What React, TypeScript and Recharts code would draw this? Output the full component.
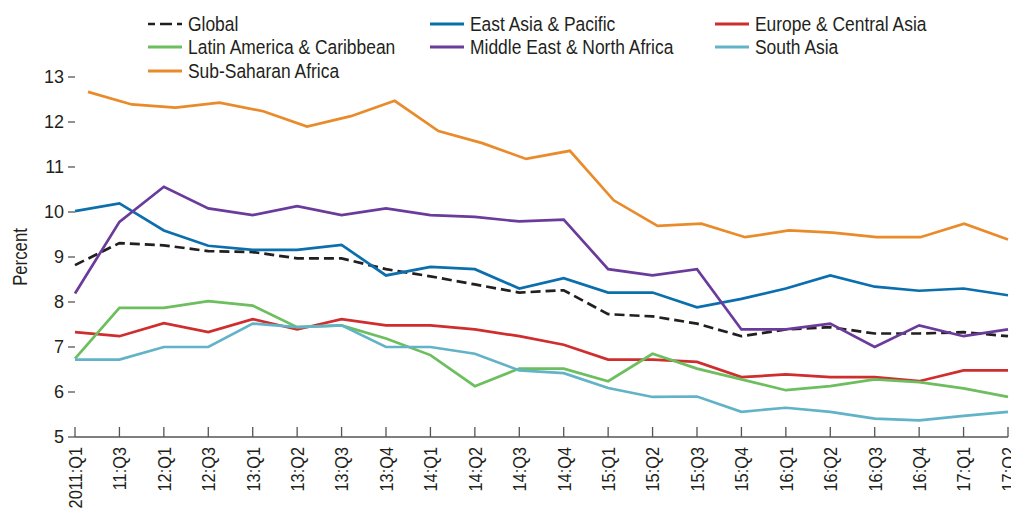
import React from "react";
import { LineChart, Line, XAxis, YAxis } from "recharts";

const quarters = [
  "2011:Q1", "11:Q3", "12:Q1", "12:Q3", "13:Q1", "13:Q2", "13:Q3", "13:Q4",
  "14:Q1", "14:Q2", "14:Q3", "14:Q4", "15:Q1", "15:Q2", "15:Q3", "15:Q4",
  "16:Q1", "16:Q2", "16:Q3", "16:Q4", "17:Q1", "17:Q2",
];

const globalRate = [8.82, 9.31, 9.26, 9.13, 9.11, 8.97, 8.97, 8.73, 8.57, 8.39, 8.21, 8.26, 7.73, 7.68, 7.52, 7.24, 7.39, 7.44, 7.3, 7.3, 7.33, 7.24];
const eastAsia = [10.02, 10.19, 9.59, 9.25, 9.16, 9.16, 9.27, 8.59, 8.78, 8.73, 8.3, 8.53, 8.21, 8.21, 7.88, 8.07, 8.3, 8.59, 8.34, 8.25, 8.3, 8.15];
const europe = [7.33, 7.24, 7.53, 7.33, 7.62, 7.39, 7.62, 7.48, 7.48, 7.39, 7.24, 7.05, 6.72, 6.72, 6.67, 6.33, 6.39, 6.33, 6.33, 6.24, 6.48, 6.48];
const latinAmerica = [6.74, 7.87, 7.87, 8.02, 7.92, 7.44, 7.48, 7.19, 6.82, 6.13, 6.52, 6.52, 6.24, 6.85, 6.52, 6.28, 6.04, 6.13, 6.28, 6.22, 6.08, 5.89];
const middleEast = [8.19, 9.78, 10.56, 10.08, 9.93, 10.13, 9.93, 10.08, 9.93, 9.89, 9.79, 9.83, 8.73, 8.59, 8.73, 7.39, 7.39, 7.52, 7.0, 7.48, 7.24, 7.39];
const southAsia = [6.72, 6.72, 7.0, 7.0, 7.52, 7.44, 7.48, 7.0, 7.0, 6.85, 6.48, 6.42, 6.09, 5.89, 5.9, 5.56, 5.65, 5.56, 5.41, 5.37, 5.47, 5.56];
const subSaharan = [12.67, 12.39, 12.32, 12.43, 12.24, 11.9, 12.13, 12.47, 11.8, 11.53, 11.18, 11.36, 10.26, 9.69, 9.74, 9.44, 9.59, 9.54, 9.44, 9.44, 9.74, 9.39];

const yTicks = [5, 6, 7, 8, 9, 10, 11, 12, 13];

// legend order = 3 columns, row by row
const series = [
  { key: "global", name: "Global", color: "#231f20", dashed: true },
  { key: "eap", name: "East Asia & Pacific", color: "#0b6fae", dashed: false },
  { key: "eca", name: "Europe & Central Asia", color: "#cf2e2e", dashed: false },
  { key: "lac", name: "Latin America & Caribbean", color: "#6cbe5e", dashed: false },
  { key: "mena", name: "Middle East & North Africa", color: "#6b3b9c", dashed: false },
  { key: "sas", name: "South Asia", color: "#62b3c7", dashed: false },
  { key: "ssa", name: "Sub-Saharan Africa", color: "#e98b2a", dashed: false },
];

const data = quarters.map((q, i) => ({
  q,
  global: globalRate[i],
  eap: eastAsia[i],
  eca: europe[i],
  lac: latinAmerica[i],
  mena: middleEast[i],
  sas: southAsia[i],
  ssa: subSaharan[i],
}));

// no condensed font installed, so Liberation Sans gets squeezed horizontally
const FONT = "'Liberation Sans', Arial, sans-serif";
const SQUEEZE = 0.86;
const TEXT = "#231f20";
const AXIS = "#555555";

function QuarterTick({ x = 0, y = 0, payload }: { x?: number; y?: number; payload?: { value?: string } }) {
  return (
    <g>
      <line x1={x} y1={y - 10} x2={x} y2={y} stroke={AXIS} strokeWidth={1.3} />
      <text
        x={0}
        y={0}
        transform={`translate(${x}, ${y + 10}) rotate(-90) scale(${SQUEEZE}, 1)`}
        textAnchor="end"
        dy="0.36em"
        fontSize={19}
        fontFamily={FONT}
        fill={TEXT}
      >
        {payload?.value ?? ""}
      </text>
    </g>
  );
}

function PercentLabel({ viewBox }: { viewBox?: { x: number; y: number; width: number; height: number } }) {
  if (!viewBox) return null;
  const cx = viewBox.x + 6;
  const cy = viewBox.y + viewBox.height / 2;
  return (
    <text
      x={0}
      y={0}
      transform={`translate(${cx}, ${cy}) rotate(-90) scale(${SQUEEZE}, 1)`}
      textAnchor="middle"
      dominantBaseline="central"
      fontSize={19.5}
      fontFamily={FONT}
      fill={TEXT}
    >
      Percent
    </text>
  );
}

function LegendGrid() {
  return (
    <div
      style={{
        position: "absolute",
        left: 148,
        top: 12,
        display: "grid",
        gridTemplateColumns: "282px 285px 285px",
        gridAutoRows: "23.5px",
        fontFamily: FONT,
        fontSize: 20.5,
        color: TEXT,
      }}
    >
      {series.map((s) => (
        <div key={s.key} style={{ display: "flex", alignItems: "center", whiteSpace: "nowrap" }}>
          <svg width={34} height={6} style={{ marginRight: 6, flex: "none" }}>
            <line
              x1={0}
              y1={3}
              x2={34}
              y2={3}
              stroke={s.color}
              strokeWidth={s.dashed ? 2.5 : 3}
              strokeDasharray={s.dashed ? "12 5" : undefined}
              strokeDashoffset={s.dashed ? 5 : undefined}
            />
          </svg>
          <span style={{ display: "inline-block", transform: "scaleX(0.85)", transformOrigin: "left center" }}>
            {s.name}
          </span>
        </div>
      ))}
    </div>
  );
}

export default function App() {
  return (
    <div style={{ position: "absolute", left: 0, top: 0, width: 1011, height: 509, background: "#fff" }}>
      <LineChart width={1011} height={509} data={data} margin={{ top: 77, right: 0, bottom: 0, left: 15 }}>
        <XAxis
          dataKey="q"
          xAxisId="main"
          height={72}
          interval={0}
          tickSize={0}
          tickMargin={0}
          tickLine={false}
          axisLine={{ stroke: AXIS, strokeWidth: 1.3 }}
          tick={<QuarterTick />}
        />
        <XAxis dataKey="q" xAxisId="ssa" hide padding={{ left: 13, right: 0 }} />
        <YAxis
          yAxisId="left"
          width={60}
          domain={[5, 13]}
          ticks={yTicks}
          interval={0}
          axisLine={false}
          tickLine={{ stroke: AXIS, strokeWidth: 1.3 }}
          tickSize={7}
          tickMargin={4}
          tick={{ fontSize: 18, fontFamily: FONT, fill: TEXT }}
          label={<PercentLabel />}
        />
        <YAxis
          yAxisId="right"
          orientation="right"
          width={3}
          domain={[5, 13]}
          ticks={yTicks}
          interval={0}
          axisLine={false}
          tickLine={{ stroke: AXIS, strokeWidth: 1.3 }}
          tickSize={3}
          tick={() => <g />}
        />
        {series.map((s) => (
          <Line
            key={s.key}
            xAxisId={s.key === "ssa" ? "ssa" : "main"}
            yAxisId="left"
            dataKey={s.key}
            name={s.name}
            type="linear"
            stroke={s.color}
            strokeWidth={2.7}
            strokeDasharray={s.dashed ? "10 5" : undefined}
            dot={false}
            activeDot={false}
            isAnimationActive={false}
          />
        ))}
      </LineChart>
      <LegendGrid />
    </div>
  );
}
